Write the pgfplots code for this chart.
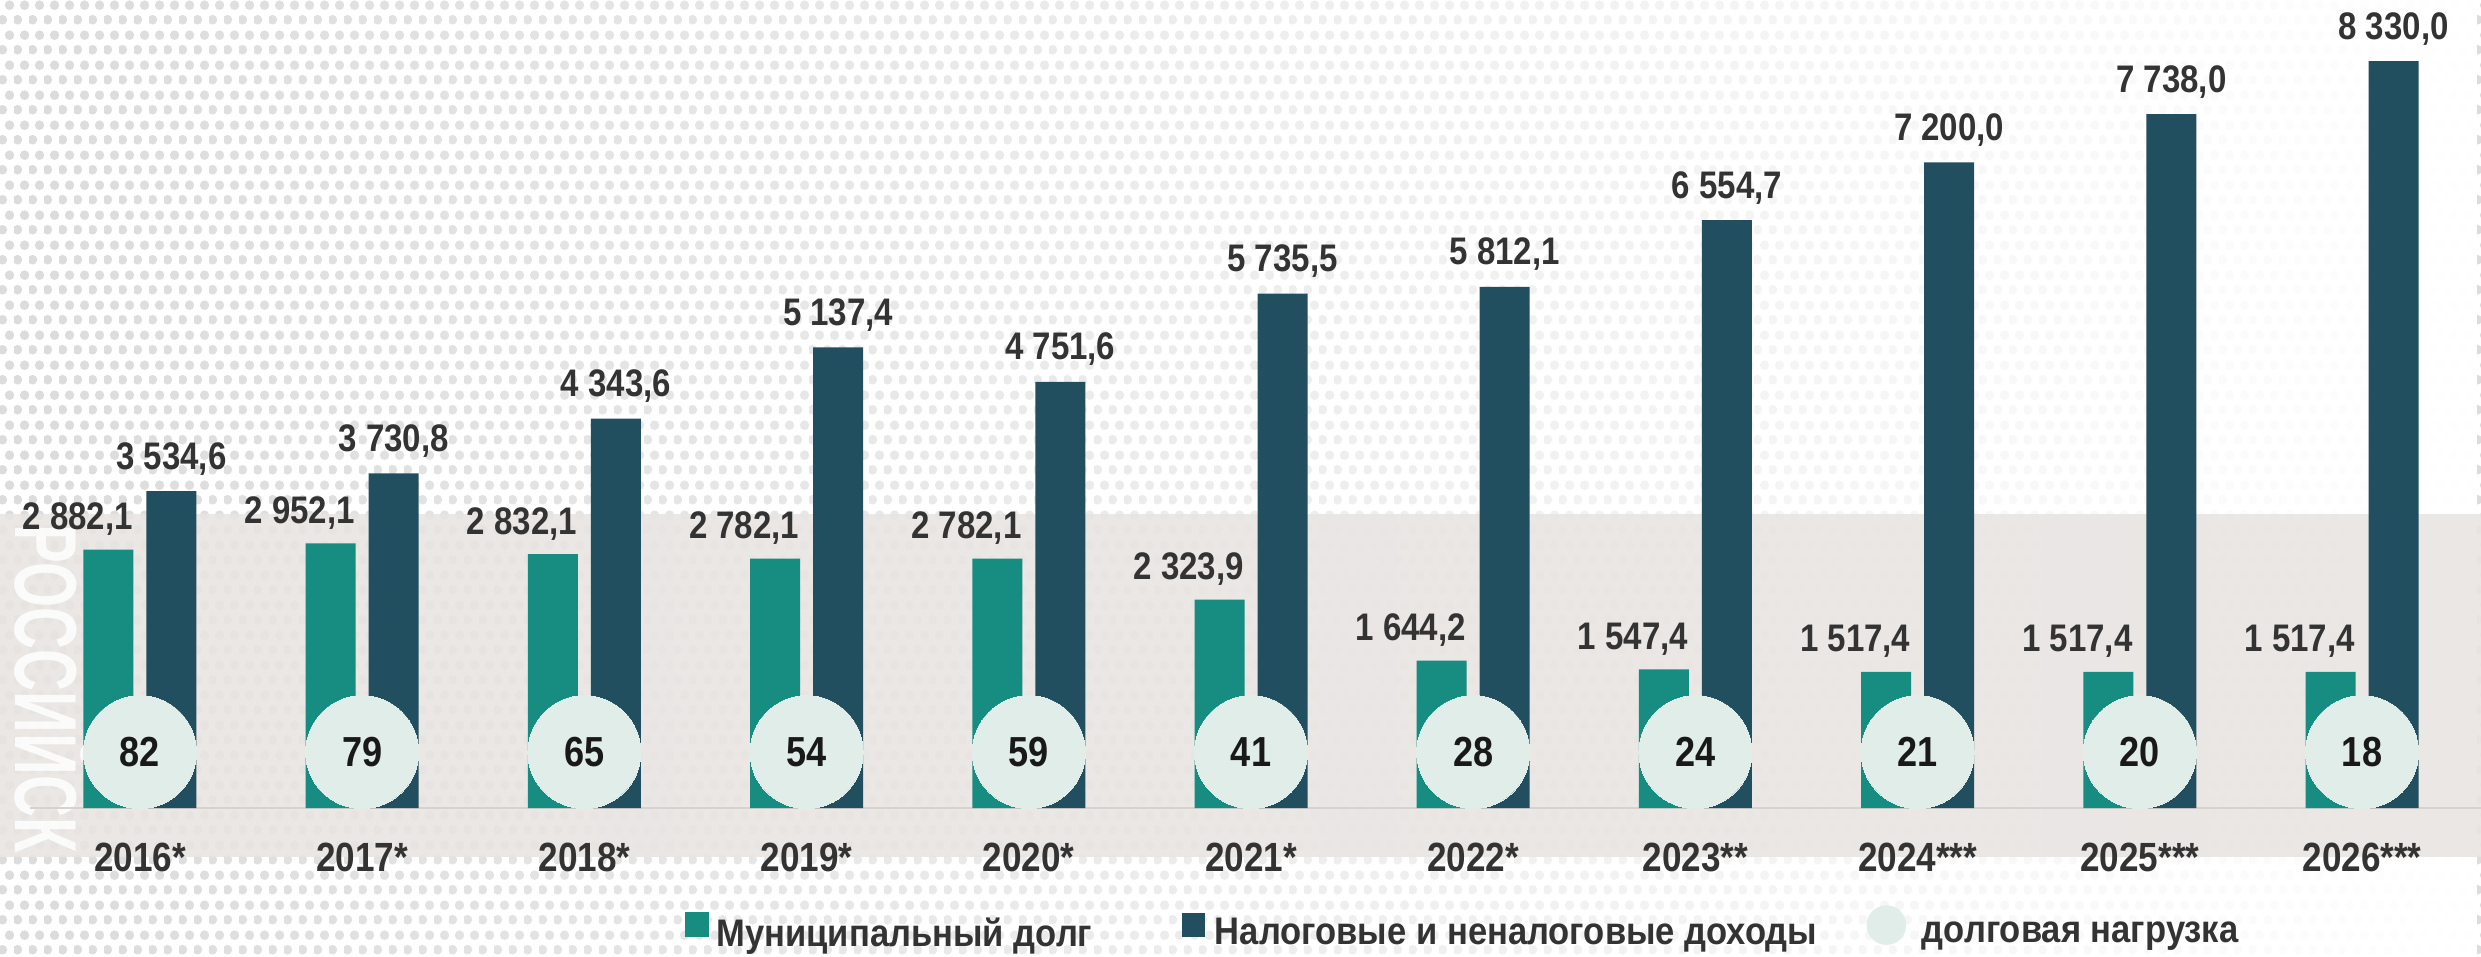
\documentclass[border=0pt]{standalone}
\usepackage{fontspec}
\setmainfont{Liberation Sans}
\newfontfamily\nb{Liberation Sans}[FakeStretch=0.86]
\newfontfamily\legfont{Liberation Sans}[FakeStretch=0.9]
\newfontfamily\wmfont{Liberation Sans}[FakeStretch=0.66]
\usepackage{pgfplots}
\pgfplotsset{compat=1.18}
\usepackage{pgfplotstable}
\usetikzlibrary{patterns,fadings}

\definecolor{debtcol}{HTML}{178C81}
\definecolor{inccol}{HTML}{224F5F}
\definecolor{circcol}{HTML}{E1EDE9}
\definecolor{txt}{HTML}{333333}
\definecolor{beige}{HTML}{E8E4E1}
\definecolor{dotgray}{HTML}{DCDCDC}
\definecolor{basecol}{HTML}{D6D2CF}

% hexagonal dot texture for the backdrop
\pgfdeclarepatternformonly{bgdots}{\pgfqpoint{0pt}{0pt}}{\pgfqpoint{3.75pt}{7.5pt}}{\pgfqpoint{3.75pt}{7.5pt}}{%
  \pgfpathcircle{\pgfqpoint{0.9375pt}{1.875pt}}{1.25pt}%
  \pgfpathcircle{\pgfqpoint{2.8125pt}{5.625pt}}{1.25pt}%
  \pgfusepath{fill}}

\tikzfading[name=faderight, left color=transparent!100, middle color=transparent!80, right color=transparent!0]

% municipal debt, tax and non-tax revenue, debt load (%), circle height
\pgfplotstableread{
x debt income load cy
0 2882.1 3534.6 82 624
1 2952.1 3730.8 79 624
2 2832.1 4343.6 65 624
3 2782.1 5137.4 54 624
4 2782.1 4751.6 59 624
5 2323.9 5735.5 41 624
6 1644.2 5812.1 28 624
7 1547.4 6554.7 24 624
8 1517.4 7200.0 21 624
9 1517.4 7738.0 20 624
10 1517.4 8330.0 18 624
}\datatable

\newcommand{\valfmt}[1]{\pgfmathprintnumber[fixed, fixed zerofill, precision=1, use comma, 1000 sep={\ }, assume math mode=true]{#1}}

\begin{document}
\begin{tikzpicture}
% backdrop
\fill[pattern=bgdots, pattern color=dotgray] (0,0) rectangle (620.25pt,239pt);
\fill[white, path fading=faderight] (0,0) rectangle (620.25pt,239pt);
\fill[beige, opacity=0.88] (0,24.75pt) rectangle (620.25pt,110.5pt);
\begin{scope}
  \clip (0,24.75pt) rectangle (620.25pt,110.5pt);
  \node[rotate=-90, anchor=base west, inner sep=0pt, text=white, opacity=0.85,
        font=\fontsize{22}{22}\selectfont\wmfont\bfseries] at (4pt,108pt) {РОССИЙСК};
\end{scope}

\begin{axis}[
  scale only axis, width=620.25pt, height=239pt,
  xmin=-0.63, xmax=10.5355, ymin=-1650, ymax=9010,
  clip=false,
  axis line style={draw=none},
  major tick length=0pt,
  ytick=\empty,
  xtick={0,...,10},
  xticklabels={2016*,2017*,2018*,2019*,2020*,2021*,2022*,2023**,2024***,2025***,2026***},
  xticklabel style={anchor=base, yshift=21.25pt, text=txt,
                    font=\fontsize{10.2}{12}\selectfont\nb\bfseries},
  legend columns=3,
  legend cell align=left,
  legend style={at={(axis description cs:0.2761,0.0042)}, anchor=south west,
                draw=none, fill=none, inner sep=0pt, outer sep=0pt, column sep=0pt,
                nodes={inner sep=0pt, text=txt, font=\fontsize{9.6}{10}\selectfont\legfont\bfseries}},
]
\draw[basecol, line width=0.5pt] (axis cs:-0.495,0) -- (axis cs:10.5355,0);

% municipal debt bars, labels right-aligned to the bar
\addplot[ybar, bar width=12.5pt, bar shift=-7.875pt, fill=debtcol, draw=none, forget plot,
  point meta=y,
  nodes near coords={\valfmt{\pgfplotspointmeta}},
  every node near coord/.style={anchor=base east, inner sep=0pt, xshift=-1.625pt, yshift=5pt,
     text=txt, font=\fontsize{9.6}{10}\selectfont\nb\bfseries}]
  table[x=x, y=debt]{\datatable};

% revenue bars, labels centred
\addplot[ybar, bar width=12.5pt, bar shift=7.875pt, fill=inccol, draw=none, forget plot,
  point meta=y,
  nodes near coords={\valfmt{\pgfplotspointmeta}},
  every node near coord/.style={anchor=base, inner sep=0pt, xshift=7.875pt, yshift=5.5pt,
     text=txt, font=\fontsize{9.6}{10}\selectfont\nb\bfseries}]
  table[x=x, y=income]{\datatable};

% debt load circles
\addplot[only marks, color=circcol, mark=*, mark size=14.125pt,
  mark options={draw=circcol, fill=circcol, line width=0pt}, forget plot,
  point meta=explicit,
  nodes near coords={\pgfmathprintnumber[fixed, precision=0, assume math mode=true]{\pgfplotspointmeta}},
  every node near coord/.style={anchor=center, inner sep=0pt, text=black!90,
     font=\fontsize{10.5}{11}\selectfont\nb\bfseries}]
  table[x=x, y=cy, meta=load]{\datatable};

\addlegendimage{legend image code/.code={\fill[debtcol] (0pt,-0.25pt) rectangle (5.5pt,5.5pt); \path (7.5pt,0pt);}}
\addlegendentry{Муниципальный долг}
\addlegendimage{legend image code/.code={\fill[inccol] (22.5pt,-0.25pt) rectangle (27.75pt,5.25pt); \path (0pt,0pt) (30.25pt,0pt);}}
\addlegendentry{Налоговые и неналоговые доходы}
\addlegendimage{legend image code/.code={\fill[circcol] (17.1pt,2.4pt) circle (4.75pt); \path (0pt,0pt) (25.75pt,0pt);}}
\addlegendentry{долговая нагрузка}
\end{axis}
\pgfresetboundingbox
\path (0,0) rectangle (620.25pt,239pt);
\end{tikzpicture}
\end{document}
